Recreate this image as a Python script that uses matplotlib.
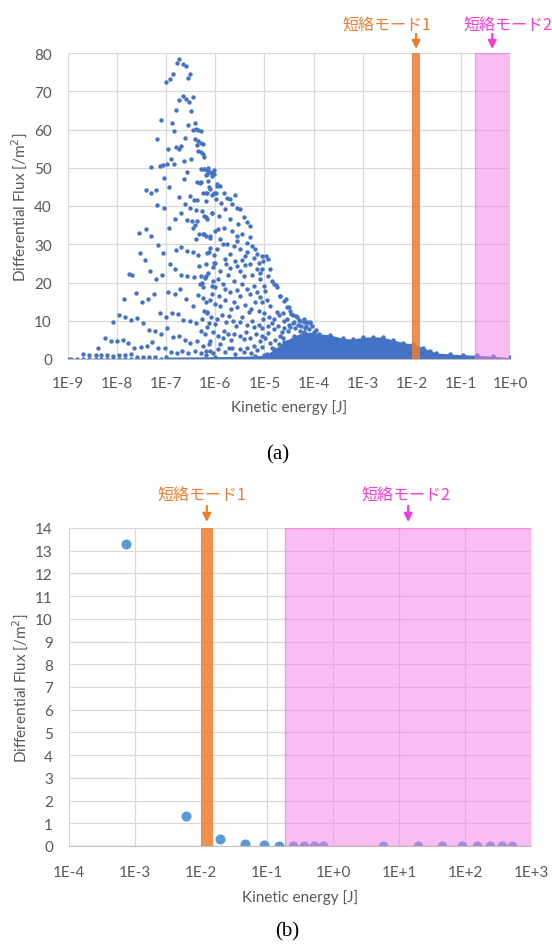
import numpy as np
import matplotlib.pyplot as plt
from matplotlib.ticker import FixedLocator, FuncFormatter, NullLocator

plt.rcParams['font.family'] = ['Lato', 'DejaVu Sans']

# ---- (a) points: (log10 kinetic energy [J], flux [/m2])
peak_pts = [(-6.73, 78.4), (-6.79, 77.4), (-6.66, 77.2), (-6.60, 76.5), (-6.86, 74.6), (-6.51, 74.6),
            (-6.93, 73.2), (-7.01, 72.5), (-6.56, 73.4), (-6.66, 68.7), (-6.73, 67.8), (-6.60, 68.0),
            (-6.54, 67.2), (-6.46, 68.4), (-6.80, 65.2), (-6.49, 64.9), (-7.10, 62.4), (-6.89, 61.8),
            (-6.55, 61.2), (-6.42, 61.7), (-7.19, 57.4), (-6.84, 59.6), (-6.45, 60.0), (-6.40, 60.2),
            (-6.36, 60.0), (-6.30, 59.7), (-6.61, 57.7), (-6.42, 57.4), (-6.36, 56.9), (-6.30, 56.4),
            (-6.38, 56.0), (-6.26, 56.1), (-6.97, 54.8), (-6.80, 55.3), (-6.74, 54.8), (-6.69, 55.8),
            (-6.36, 54.3), (-6.30, 54.0), (-6.26, 53.7), (-6.23, 52.8), (-6.90, 52.2), (-6.98, 51.1),
            (-6.84, 51.1), (-6.64, 51.7), (-6.49, 52.2), (-7.30, 50.2), (-7.13, 50.5), (-7.07, 50.7),
            (-6.57, 48.9), (-6.30, 49.7), (-6.23, 49.6), (-6.17, 49.4), (-6.11, 49.0), (-6.06, 48.7),
            (-6.02, 48.3), (-6.18, 48.0), (-7.05, 47.3), (-6.64, 47.0), (-6.37, 46.3), (-6.30, 46.3),
            (-6.15, 46.5), (-6.95, 44.9), (-6.13, 44.9), (-5.96, 45.2), (-7.42, 44.1), (-7.31, 43.4),
            (-7.20, 44.1), (-6.25, 43.5), (-6.17, 43.3), (-6.06, 42.8), (-5.99, 43.3), (-6.73, 42.4),
            (-6.51, 42.5), (-6.37, 41.5), (-6.20, 41.2), (-6.44, 41.6), (-7.18, 40.3), (-7.05, 39.5),
            (-6.61, 40.4), (-6.52, 39.6)]

left_pts = [(-6.70, 38.1), (-6.82, 36.6), (-6.58, 36.3), (-6.47, 36.1), (-6.37, 36.1), (-6.40, 38.9),
            (-6.28, 38.7), (-6.23, 37.4), (-6.17, 36.7), (-6.06, 38.1), (-6.42, 35.0), (-6.46, 34.2),
            (-6.94, 34.3), (-7.42, 34.1), (-7.56, 33.0), (-7.30, 32.1), (-6.34, 32.8), (-6.25, 32.6),
            (-6.18, 32.1), (-6.11, 32.1), (-6.40, 31.5), (-7.17, 29.9), (-6.70, 29.3), (-6.81, 28.6),
            (-6.57, 28.3), (-6.45, 28.0), (-6.36, 27.2), (-6.13, 28.0), (-6.03, 27.2), (-7.54, 27.7),
            (-7.06, 27.7), (-7.44, 25.8), (-6.93, 24.8), (-6.33, 24.3), (-6.20, 24.8), (-6.01, 25.0),
            (-6.82, 23.5), (-7.33, 22.9), (-7.75, 22.1), (-7.70, 22.0), (-7.08, 22.0), (-7.20, 20.8),
            (-6.70, 22.0), (-6.57, 21.7), (-6.44, 21.5), (-6.29, 21.6), (-6.21, 21.3), (-6.32, 19.6),
            (-6.25, 18.7), (-6.07, 19.0), (-6.72, 18.3), (-7.62, 17.2), (-7.25, 16.9), (-6.96, 17.5),
            (-6.83, 17.0), (-6.35, 16.8), (-7.86, 15.7), (-7.37, 15.7), (-7.50, 15.0), (-6.60, 15.7),
            (-6.20, 15.0), (-6.46, 13.9), (-7.13, 11.9), (-6.89, 12.0), (-6.77, 11.8), (-7.01, 10.9),
            (-6.23, 12.6), (-6.17, 11.9), (-7.96, 11.6), (-7.83, 10.9), (-7.71, 10.2), (-7.59, 10.6),
            (-8.08, 9.8), (-7.48, 9.3), (-6.65, 10.1), (-6.52, 10.0), (-6.40, 9.3), (-6.13, 9.3),
            (-7.35, 7.6), (-7.22, 7.2), (-7.10, 6.5), (-6.99, 8.0), (-6.29, 7.4), (-6.17, 8.4),
            (-8.25, 5.6), (-8.13, 4.8), (-8.01, 4.8), (-7.89, 5.0), (-7.77, 4.3), (-7.66, 3.0),
            (-7.52, 3.2), (-7.40, 3.3), (-7.28, 4.4), (-7.16, 2.8), (-7.03, 2.9), (-6.86, 5.8),
            (-6.74, 6.0), (-6.62, 5.0), (-6.51, 4.3), (-6.38, 4.8), (-6.25, 3.5), (-6.13, 3.9),
            (-8.38, 3.0), (-8.69, 1.3), (-8.57, 1.0), (-8.44, 1.0), (-8.32, 1.0), (-8.20, 1.1),
            (-8.08, 0.9), (-7.96, 1.0), (-7.84, 1.1), (-7.72, 1.3), (-7.60, 0.6), (-7.47, 0.6),
            (-7.35, 0.6), (-7.23, 0.4), (-6.91, 1.7), (-6.79, 1.6), (-6.67, 2.2), (-6.55, 1.6),
            (-6.42, 2.0), (-6.30, 1.6), (-6.18, 2.2)]

slope_pts = [(-6.24, 49.6), (-6.14, 50.0), (-6.03, 49.4), (-6.17, 48.3), (-6.07, 47.8), (-6.31, 46.1),
             (-5.97, 45.7), (-5.90, 45.2), (-6.10, 44.5), (-6.18, 43.5), (-6.03, 43.5), (-5.83, 43.5),
             (-5.76, 42.2), (-5.70, 41.7), (-5.59, 43.0), (-5.98, 41.7), (-5.89, 40.9), (-5.66, 40.4),
             (-5.56, 39.6), (-5.49, 39.1), (-5.80, 39.1), (-6.20, 37.0), (-6.07, 38.3), (-5.93, 37.4),
             (-5.70, 36.5), (-5.42, 37.0), (-5.36, 35.7), (-5.29, 34.8), (-5.53, 35.2), (-5.66, 33.5),
             (-5.83, 34.3), (-6.00, 33.5), (-5.56, 32.2), (-5.46, 32.6), (-5.29, 32.0), (-6.24, 32.6),
             (-6.10, 31.7), (-5.90, 31.3), (-5.76, 30.0), (-5.36, 30.4), (-5.25, 29.6), (-5.19, 28.7),
             (-5.63, 29.6), (-5.49, 28.7), (-5.97, 28.7), (-6.17, 27.8), (-5.15, 27.4), (-5.05, 27.0),
             (-4.96, 26.8), (-4.93, 26.1), (-5.02, 25.7), (-5.39, 27.0), (-5.80, 26.1), (-6.03, 25.2),
             (-5.56, 24.3), (-5.70, 23.9), (-5.29, 24.8), (-5.15, 23.5), (-5.90, 23.0), (-4.88, 23.5),
             (-4.92, 21.7), (-5.42, 21.7), (-6.20, 21.7), (-5.63, 20.4), (-5.09, 20.9), (-4.85, 20.4),
             (-4.81, 19.6), (-4.75, 18.7), (-5.22, 19.1), (-5.36, 18.3), (-6.00, 18.7), (-5.80, 18.3),
             (-4.98, 17.8), (-6.07, 17.0), (-5.49, 16.5), (-5.09, 16.1), (-4.68, 16.5), (-4.61, 15.2),
             (-5.19, 14.8), (-5.63, 14.8), (-5.90, 13.9), (-4.88, 13.9), (-4.54, 13.5), (-4.48, 12.6),
             (-4.75, 12.2), (-5.32, 12.2), (-6.17, 12.2), (-5.73, 11.3), (-4.41, 11.5), (-4.34, 10.9),
             (-4.27, 10.0), (-4.20, 9.6), (-4.14, 9.7), (-4.07, 9.4), (-4.61, 10.0), (-5.02, 10.4),
             (-5.49, 9.6), (-6.00, 9.1), (-5.22, 8.3), (-4.48, 8.3), (-4.81, 7.8), (-5.83, 7.4),
             (-5.63, 6.5), (-4.27, 7.4), (-5.05, 6.1), (-4.68, 6.1), (-5.42, 5.2), (-6.10, 4.8),
             (-5.90, 3.9), (-4.88, 4.3), (-5.22, 3.5), (-5.66, 3.0), (-4.41, 3.5), (-6.10, 2.2),
             (-5.42, 1.7), (-4.75, 2.2), (-4.76, 19.3), (-4.69, 16.5), (-4.56, 15.8), (-4.49, 13.5),
             (-4.35, 11.3), (-4.08, 9.7), (-4.15, 8.7), (-4.39, 9.6)]

# more of the crowded cloud between 1E-6 and 1E-4
crowd_pts = [(-6.28, 20.0), (-6.15, 22.5), (-6.05, 20.5), (-5.95, 21.0), (-5.85, 19.5), (-5.75, 22.0),
             (-5.70, 17.5), (-5.55, 18.0), (-5.45, 19.5), (-5.30, 17.0), (-5.15, 17.5), (-5.05, 15.0),
             (-4.95, 15.5), (-6.25, 16.0), (-6.10, 15.5), (-6.00, 14.5), (-5.92, 16.5), (-5.80, 15.5),
             (-5.68, 13.0), (-5.55, 13.5), (-5.40, 14.0), (-5.28, 13.0), (-5.12, 12.5), (-5.00, 12.0),
             (-4.90, 11.0), (-4.80, 10.5), (-6.27, 10.5), (-6.08, 11.0), (-5.97, 10.5), (-5.86, 11.5),
             (-5.78, 9.8), (-5.65, 10.0), (-5.58, 8.5), (-5.45, 11.0), (-5.35, 9.0), (-5.25, 10.0),
             (-5.12, 9.0), (-5.05, 8.0), (-4.92, 8.5), (-4.85, 9.5), (-4.72, 8.5), (-4.65, 7.0),
             (-6.22, 6.5), (-6.05, 7.0), (-5.95, 6.0), (-5.85, 5.5), (-5.75, 6.5), (-5.68, 5.0),
             (-5.50, 6.0), (-5.38, 7.0), (-5.30, 5.5), (-5.18, 6.5), (-5.10, 4.8), (-4.98, 5.5),
             (-4.92, 6.8), (-4.78, 5.0), (-4.70, 4.0), (-4.62, 5.5), (-4.55, 4.5), (-6.20, 1.0),
             (-6.05, 1.5), (-5.95, 2.5), (-5.80, 1.8), (-5.72, 2.8), (-5.60, 1.2), (-5.50, 2.5),
             (-5.35, 3.0), (-5.28, 1.5), (-5.15, 2.3), (-5.05, 3.2), (-4.95, 1.2), (-4.85, 2.8),
             (-4.65, 1.5), (-4.55, 2.5), (-5.95, 34.0), (-5.85, 30.0), (-5.70, 27.5), (-5.60, 25.5),
             (-5.50, 23.0), (-5.40, 24.5), (-5.25, 22.0), (-5.10, 22.5), (-5.00, 19.0), (-6.10, 29.0),
             (-6.05, 24.0), (-5.78, 24.8), (-5.55, 30.8), (-5.45, 26.0), (-5.35, 28.0), (-5.22, 26.5),
             (-5.12, 25.0), (-5.05, 23.5), (-4.70, 11.5), (-4.62, 12.0), (-4.55, 10.5), (-4.50, 9.0),
             (-4.42, 9.5), (-4.38, 8.0), (-4.32, 9.0), (-4.25, 8.5), (-4.18, 8.0), (-4.10, 7.8),
             (-4.03, 8.5), (-3.95, 7.5), (-4.45, 11.8), (-4.30, 10.2), (-4.20, 10.5), (-4.60, 8.0),
             (-4.52, 7.2)]

floor_logE = [-9.0, -8.93, -8.81, -8.69, -8.57, -8.44, -8.32, -8.20, -8.08, -7.96, -7.84,
              -7.72, -7.60, -7.47, -7.35, -7.23, -7.11]
floor_flux = [0.1] * len(floor_logE)

# dense mass of points along the bottom (upper edge)
band_logE = [-7.0, -6.0, -5.2, -5.0, -4.8, -4.6, -4.4, -4.2, -4.0, -3.88, -3.67, -3.4, -3.2,
             -3.0, -2.79, -2.59, -2.38, -2.18, -1.97, -1.77, -1.63, -1.5, -1.22, -0.95, -0.68,
             -0.34, 0.0]
band_top = [0.5, 0.6, 0.8, 1.0, 2.5, 4.5, 6.0, 7.0, 7.0, 6.6, 6.3, 5.4, 5.2, 5.7, 5.8, 5.7,
            5.0, 4.3, 3.9, 3.0, 2.2, 1.6, 1.3, 1.1, 1.0, 0.7, 0.4]

# ---- (b) points
b_energy = [7.3e-4, 5.9e-3, 0.0194, 0.046, 0.09, 0.152, 0.245, 0.367, 0.52, 0.71,
            5.66, 19.2, 44.7, 89, 150, 240, 360, 509]
b_flux = [13.3, 1.32, 0.29, 0.1, 0.04, 0.02, 0.02, 0.02, 0.02, 0.02,
          0.02, 0.02, 0.02, 0.02, 0.02, 0.02, 0.02, 0.02]

# short-circuit mode ranges [J]
mode1 = [0.01, 0.015]
mode2 = [0.19, 1000]
mode_labels = ['短絡モード1', '短絡モード2']

orange = '#ED7D31'
magenta = '#F23DD3'
grey_txt = '#595959'
grid_c = '#D9D9D9'

fig = plt.figure(figsize=(5.52, 9.45), dpi=100)
W, H = 552, 945


def rect(l, t, r, b):
    return [l / W, 1 - b / H, (r - l) / W, (b - t) / H]


def decade_fmt(v, pos):
    return '1E{:+d}'.format(int(round(np.log10(v))))


def style_axes(ax, xlim, ylim, ystep, xpad):
    ax.set_xscale('log')
    ax.set_xlim(xlim)
    ax.set_ylim(ylim)
    ax.xaxis.set_major_locator(FixedLocator(10.0 ** np.arange(np.log10(xlim[0]), np.log10(xlim[1]) + 1)))
    ax.xaxis.set_minor_locator(NullLocator())
    ax.xaxis.set_major_formatter(FuncFormatter(decade_fmt))
    ax.set_yticks(np.arange(ylim[0], ylim[1] + ystep, ystep))
    ax.grid(True, color=grid_c, lw=0.9, zorder=0)
    ax.set_axisbelow(True)
    for s in ['top', 'right', 'left']:
        ax.spines[s].set_visible(False)
    ax.spines['bottom'].set_color('#BFBFBF')
    ax.tick_params(length=0, labelsize=11, labelcolor=grey_txt)
    ax.tick_params(axis='x', pad=xpad)
    ax.tick_params(axis='y', pad=11.5)


def mode_mark(ax, x, text, color, tail, tip, text_y, text_dx):
    px = 0.72  # points per pixel
    ax.annotate('', xy=(x, 1), xycoords=('data', 'axes fraction'),
                xytext=(0, tail * px), textcoords='offset points',
                arrowprops=dict(arrowstyle='-|>', color=color, lw=1.6, mutation_scale=12,
                                shrinkA=0, shrinkB=tip * px),
                annotation_clip=False)
    ax.annotate(text, xy=(x, 1), xycoords=('data', 'axes fraction'),
                xytext=(text_dx * px, text_y * px), textcoords='offset points',
                ha='center', va='center', color=color, fontsize=11.5,
                family=['Noto Sans CJK JP', 'DejaVu Sans'], annotation_clip=False)


# ---------------- (a)
ax1 = fig.add_axes(rect(68, 54, 510, 360))
style_axes(ax1, (1e-9, 1e0), (0, 80), 10, 12)
blue_a = '#4472C4'
ax1.fill_between(10.0 ** np.array(band_logE), 0, band_top, color=blue_a, lw=0, zorder=2)
for grp in [peak_pts, left_pts, slope_pts, crowd_pts]:
    arr = np.array(grp)
    ax1.scatter(10.0 ** arr[:, 0], arr[:, 1], s=10, color=blue_a, lw=0, zorder=2)
ax1.scatter(10.0 ** np.array(floor_logE), floor_flux, s=10, color=blue_a, lw=0, zorder=2)
ax1.scatter(10.0 ** np.array(band_logE), band_top, s=10, color=blue_a, lw=0, zorder=2)

ax1.axvspan(mode1[0], mode1[1], color=orange, alpha=0.85, lw=0, zorder=3)
ax1.axvspan(mode2[0], mode2[1], facecolor='#F77DE5', alpha=0.5, edgecolor='#F060E0', lw=1, zorder=3)

mode_mark(ax1, np.sqrt(mode1[0] * mode1[1]), mode_labels[0], orange, 19, 4, 29, -29.5)
mode_mark(ax1, np.sqrt(mode2[0] * 1.0), mode_labels[1], magenta, 19, 4, 29, 16)

fig.text(19 / W, 1 - 207 / H, 'Differential Flux [/m$^2$]', rotation=90, ha='center',
         va='center', fontsize=11, color=grey_txt)
fig.text(289 / W, 1 - 408 / H, 'Kinetic energy [J]', ha='center', va='center',
         fontsize=11, color=grey_txt)
fig.text(278 / W, 1 - 455 / H, '(a)', ha='center', va='center', fontsize=15,
         family='Liberation Serif')

# ---------------- (b)
ax2 = fig.add_axes(rect(69, 529, 531, 847))
style_axes(ax2, (1e-4, 1e3), (0, 14), 1, 13.5)
ax2.scatter(b_energy, b_flux, s=52, color='#5B9BD5', lw=0, zorder=2)
ax2.axvspan(mode1[0], mode1[1], color=orange, alpha=0.85, lw=0, zorder=3)
ax2.axvspan(mode2[0], mode2[1], facecolor='#F77DE5', alpha=0.5, edgecolor='#F060E0', lw=1, zorder=3)

mode_mark(ax2, np.sqrt(mode1[0] * mode1[1]), mode_labels[0], orange, 22, 6, 34, -4.5)
mode_mark(ax2, np.sqrt(mode2[0] * mode2[1]), mode_labels[1], magenta, 22, 6, 34, -2.5)

fig.text(20 / W, 1 - 688 / H, 'Differential Flux [/m$^2$]', rotation=90, ha='center',
         va='center', fontsize=11, color=grey_txt)
fig.text(300 / W, 1 - 898 / H, 'Kinetic energy [J]', ha='center', va='center',
         fontsize=11, color=grey_txt)
fig.text(287 / W, 1 - 932 / H, '(b)', ha='center', va='center', fontsize=15,
         family='Liberation Serif')

fig.savefig('out.png', dpi=100, facecolor='white')
